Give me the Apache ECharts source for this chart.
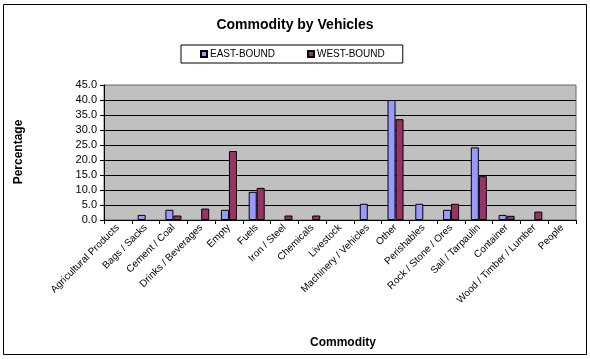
<!DOCTYPE html>
<html>
<head>
<meta charset="utf-8">
<script src="https://cdn.jsdelivr.net/npm/echarts@6/dist/echarts.min.js"></script>
<style>html,body{margin:0;padding:0;background:#fff;}#c{width:590px;height:359px;}</style>
</head>
<body>
<div id="c"></div>
<script>
const categories = ["Agricultural Products","Bags / Sacks","Cement / Coal","Drinks / Beverages","Empty","Fuels","Iron / Steel","Chemicals","Livestock","Machinery / Vehicles","Other","Perishables","Rock / Stone / Ores","Sail / Tarpaulin","Container","Wood / Timber / Lumber","People"];
const eastBound = [0, 1.7, 3.4, 0, 3.4, 9.4, 0, 0, 0, 5.4, 40.0, 5.4, 3.4, 24.2, 1.7, 0, 0];
const westBound = [0, 0, 1.5, 3.8, 23.0, 10.7, 1.5, 1.5, 0, 0, 33.6, 0, 5.4, 14.6, 1.4, 2.8, 0];
const yTicks = [0, 5, 10, 15, 20, 25, 30, 35, 40, 45];

// zero values are drawn as no bar at all (as in the original)
const hideZero = arr => arr.map(v => (v === 0 ? null : v));

const chart = echarts.init(document.getElementById('c'), null, {renderer: 'canvas'});
const font = '"Liberation Sans", Arial, sans-serif';
const splitColors = yTicks.map((v, i) => i === yTicks.length - 1 ? '#909090' : '#000000');
chart.setOption({
  animation: false,
  backgroundColor: '#ffffff',
  title: {
    text: 'Commodity by Vehicles',
    left: 'center', top: 13,
    textStyle: {fontFamily: font, fontSize: 14, fontWeight: 'bold', color: '#000'}
  },
  legend: {
    left: 181, top: 45,
    padding: [4, 18, 4, 19],
    borderColor: '#000', borderWidth: 1,
    itemWidth: 6, itemHeight: 6, itemGap: 32,
    icon: 'rect',
    textStyle: {fontFamily: font, fontSize: 10, color: '#000', padding: [0, 0, 0, -2]},
    data: ['EAST-BOUND', 'WEST-BOUND']
  },
  grid: {
    left: 104, right: 14, top: 85, bottom: 139,
    show: true, backgroundColor: '#C0C0C0', borderColor: '#6a6a6a', borderWidth: 1
  },
  xAxis: {
    type: 'category',
    data: categories,
    boundaryGap: true,
    axisLine: {lineStyle: {color: '#000', width: 1}},
    axisTick: {show: true, length: 4, lineStyle: {color: '#000'}},
    axisLabel: {interval: 0, rotate: 45, fontFamily: font, fontSize: 10, color: '#000', margin: 6}
  },
  yAxis: {
    type: 'value', min: 0, max: 45, interval: 5,
    axisLine: {show: true, lineStyle: {color: '#000', width: 1}},
    axisTick: {show: true, length: 4, lineStyle: {color: '#000'}},
    axisLabel: {fontFamily: font, fontSize: 11, color: '#000', margin: 7, formatter: v => v.toFixed(1)},
    splitLine: {show: true, lineStyle: {color: splitColors, width: 1}}
  },
  series: [
    {
      name: 'EAST-BOUND', type: 'bar', data: hideZero(eastBound),
      barWidth: 8, barGap: '0%',
      itemStyle: {color: '#9999FF', borderColor: '#000', borderWidth: 1}
    },
    {
      name: 'WEST-BOUND', type: 'bar', data: hideZero(westBound),
      barWidth: 8, barGap: '0%',
      itemStyle: {color: '#993366', borderColor: '#000', borderWidth: 1}
    }
  ],
  graphic: [
    {type: 'rect', shape: {x: 3.5, y: 4.5, width: 583, height: 350}, style: {fill: 'none', stroke: '#000', lineWidth: 1}, silent: true},
    {type: 'text', rotation: Math.PI / 2, x: 19, y: 152,
      style: {text: 'Percentage', font: 'bold 12px ' + font, fill: '#000', textAlign: 'center', textVerticalAlign: 'middle'}},
    {type: 'text', x: 343, y: 343,
      style: {text: 'Commodity', font: 'bold 12px ' + font, fill: '#000', textAlign: 'center', textVerticalAlign: 'middle'}}
  ]
});
</script>
</body>
</html>
